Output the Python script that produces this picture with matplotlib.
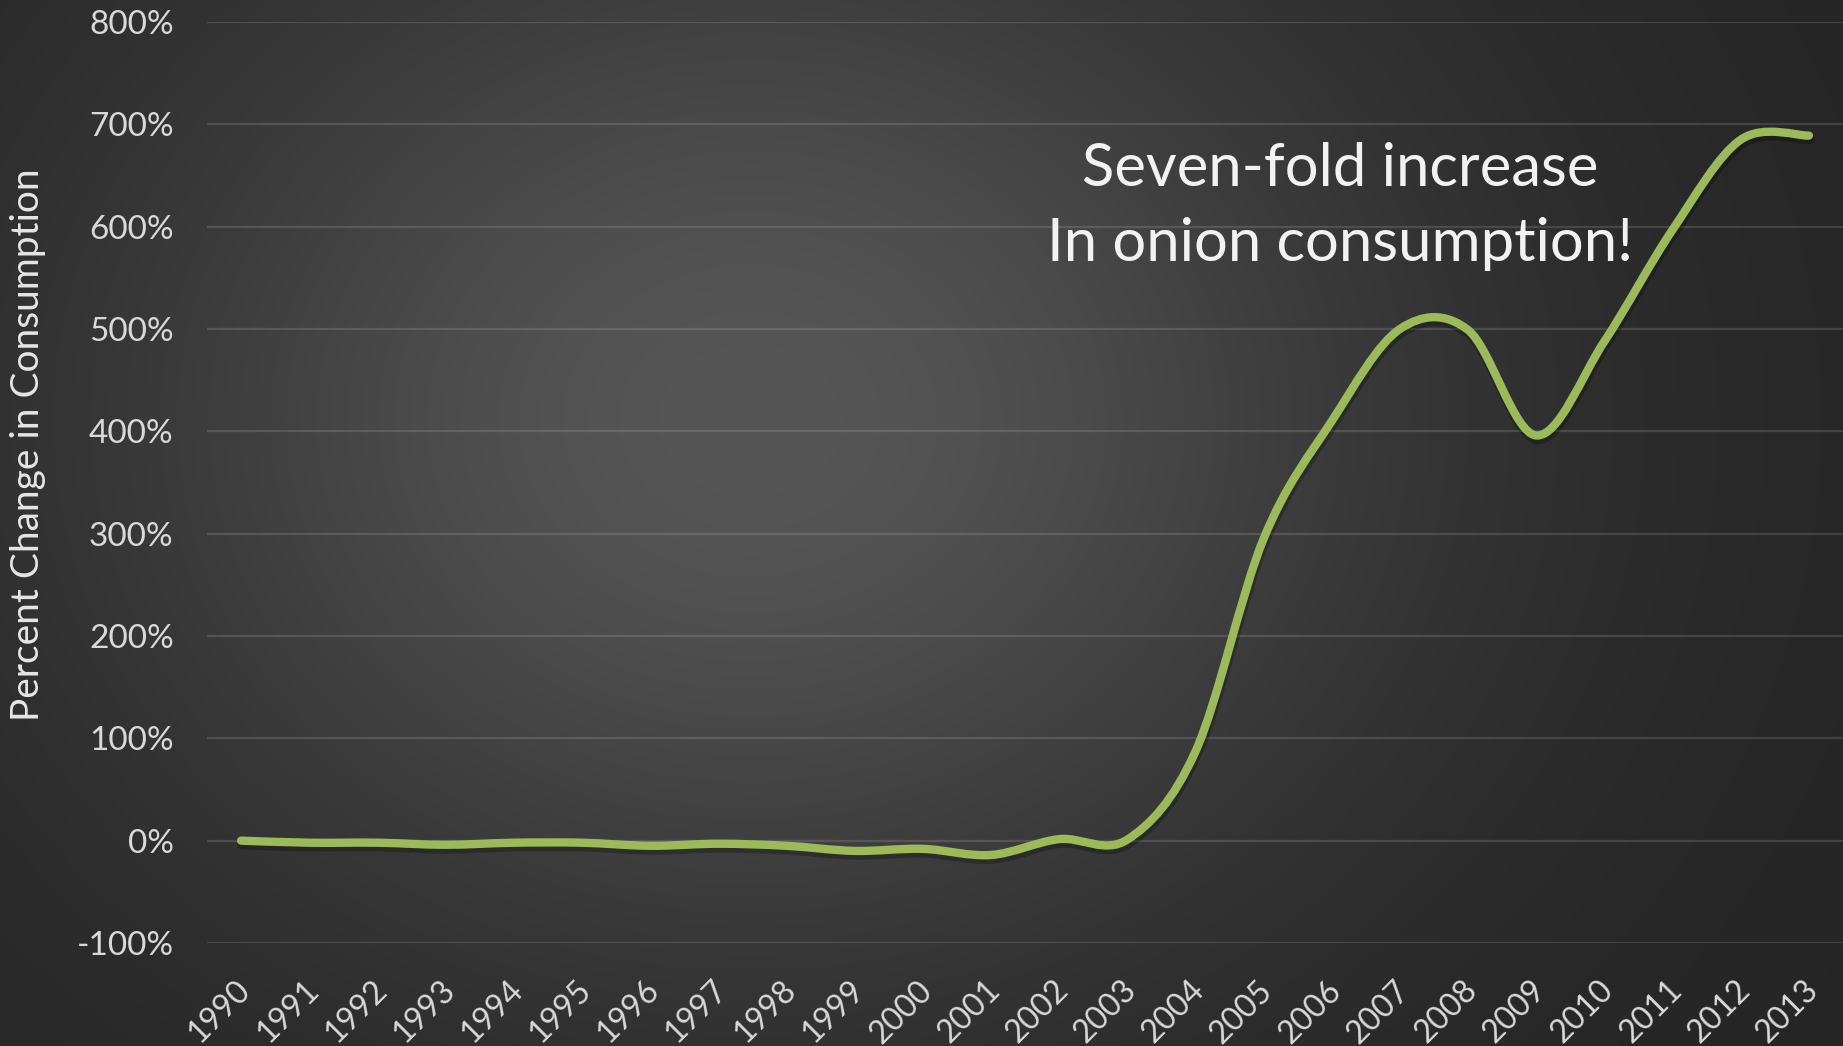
import numpy as np
import matplotlib
matplotlib.use("Agg")
import matplotlib.pyplot as plt
import matplotlib.transforms as mtransforms
from matplotlib.path import Path
from matplotlib.patches import PathPatch
from matplotlib.ticker import FuncFormatter

# data
years = [str(y) for y in range(1990, 2014)]
pct_change = [0, -2, -2, -4, -2, -2, -5, -3, -5, -10, -8, -14,
              1.5, 1, 87, 295, 410, 500, 499, 396, 488, 597, 685, 689]
y_ticks = list(range(-100, 900, 100))
note_lines = ["Seven-fold increase", "In onion consumption!"]

plt.rcParams['font.family'] = ['Lato', 'DejaVu Sans']

W, H, DPI = 1843, 1046, 100
fig = plt.figure(figsize=(W / DPI, H / DPI), dpi=DPI)

# radial grey background
bg = fig.add_axes([0, 0, 1, 1], zorder=-10)
bg.axis('off')
gx, gy = np.meshgrid(np.arange(W), np.arange(H))
r2 = ((gx - 750) / 1.2) ** 2 + (gy - 420) ** 2
shade = 37 + 49 * np.exp(-r2 / 534 ** 2)
bg.imshow(np.dstack([shade] * 3) / 255.0, aspect='auto', interpolation='bilinear')

ax = fig.add_axes([207 / W, 1 - 943 / H, 1 - 207 / W, (943 - 22) / H])
ax.set_facecolor('none')
ax.set_xlim(-0.5, len(years) - 0.5)
ax.set_ylim(-100, 800)

# Excel-like smoothed line (cubic bezier through every point)
x = np.arange(len(years), dtype=float)
y = np.array(pct_change, dtype=float)
pts = np.column_stack([x, y])
verts = [pts[0]]
codes = [Path.MOVETO]
n = len(pts)
for i in range(n - 1):
    p0 = pts[max(i - 1, 0)]
    p1 = pts[i]
    p2 = pts[i + 1]
    p3 = pts[min(i + 2, n - 1)]
    verts += [p1 + (p2 - p0) / 6, p2 - (p3 - p1) / 6, p2]
    codes += [Path.CURVE4] * 3
curve = Path(verts, codes)

shadow_tr = ax.transData + mtransforms.ScaledTranslation(1 / DPI, -4 / DPI, fig.dpi_scale_trans)
ax.add_patch(PathPatch(curve, facecolor='none', edgecolor='black', alpha=0.25,
                       lw=7, capstyle='round', joinstyle='round',
                       transform=shadow_tr, zorder=3))
ax.add_patch(PathPatch(curve, facecolor='none', edgecolor='#9BBB59', lw=6,
                       capstyle='round', joinstyle='round', zorder=4))

# grid + axes styling
ax.set_yticks(y_ticks)
ax.yaxis.set_major_formatter(FuncFormatter(lambda v, p: f"{int(v)}%"))
ax.grid(axis='y', color='white', alpha=0.13, lw=1.6)
ax.set_axisbelow(True)
for s in ax.spines.values():
    s.set_visible(False)
ax.tick_params(axis='both', length=0, colors='#d9d9d9')
ax.tick_params(axis='y', labelsize=24, pad=24)

ax.set_xticks(x)
ax.set_xticklabels(years, rotation=45, ha='right', va='top',
                   rotation_mode='anchor', fontsize=23)
ax.tick_params(axis='x', pad=23)
shift = mtransforms.ScaledTranslation(-6 / DPI, 0, fig.dpi_scale_trans)
for lab in ax.get_xticklabels():
    lab.set_transform(lab.get_transform() + shift)

fig.text(28 / W, 1 - 445 / H, "Percent Change in Consumption", rotation=90,
         ha='center', va='center', fontsize=28, color='#e6e6e6')

# annotation
fig.text(1340 / W, 1 - 186 / H, note_lines[0], ha='center', va='baseline',
         fontsize=43, color='#f2f2f2')
fig.text(1340 / W, 1 - 261 / H, note_lines[1], ha='center', va='baseline',
         fontsize=43, color='#f2f2f2')

fig.savefig('out.png', dpi=DPI)
